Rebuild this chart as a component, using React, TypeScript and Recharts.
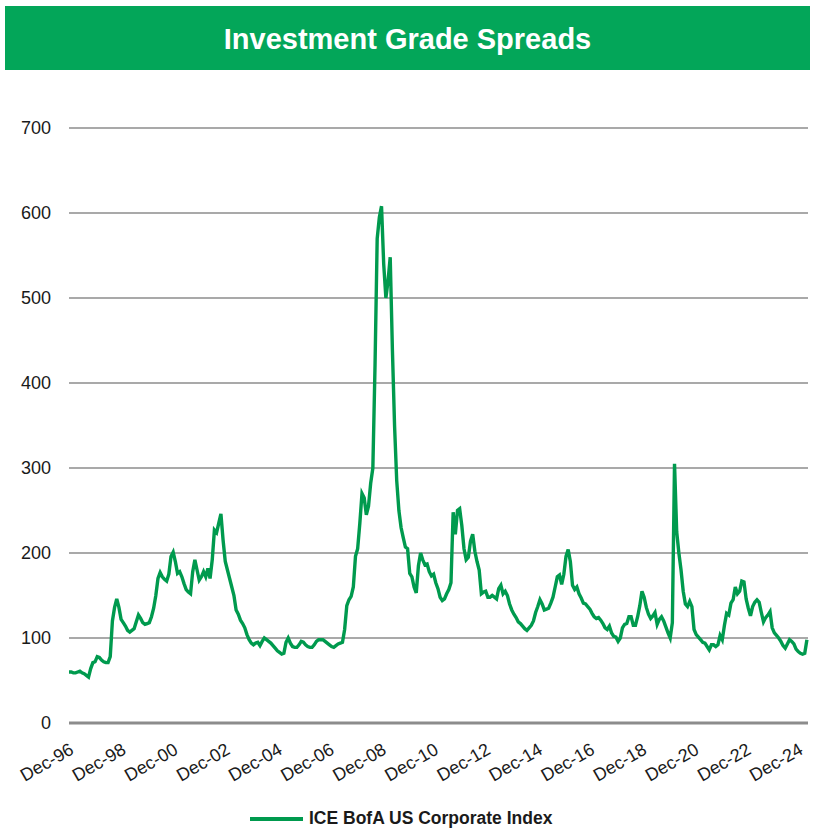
import { LineChart, Line, XAxis, YAxis, CartesianGrid } from "recharts";

const title = "Investment Grade Spreads";
const seriesName = "ICE BofA US Corporate Index";

// one label every 24 months, starting Dec-96
const tickLabels = [
  "Dec-96", "Dec-98", "Dec-00", "Dec-02", "Dec-04", "Dec-06", "Dec-08",
  "Dec-10", "Dec-12", "Dec-14", "Dec-16", "Dec-18", "Dec-20", "Dec-22", "Dec-24",
];
const yTicks = [0, 100, 200, 300, 400, 500, 600, 700];

// monthly spreads (bp), Dec-96 onwards
const spreads1997to2000 = [
  60, 60, 59, 59, 60, 61, 59, 58, 56, 54, 64, 71,
  72, 78, 77, 74, 72, 71, 71, 78, 120, 136, 146, 136,
  122, 118, 114, 109, 107, 109, 111, 119, 127, 123, 118, 116,
  117, 118, 125, 135, 150, 170, 177, 172, 169, 167, 175, 196,
];
const spreads2001to2004 = [
  201, 190, 176, 178, 172, 164, 157, 154, 152, 178, 192, 180,
  168, 172, 178, 172, 182, 170, 192, 227, 224, 235, 246, 215,
  190, 180, 170, 160, 150, 133, 128, 121, 117, 112, 104, 98,
  94, 92, 94, 95, 91, 96, 100, 98, 96, 94, 91, 88,
];
const spreads2005to2008 = [
  85, 83, 81, 82, 95, 100, 94, 90, 89, 89, 92, 96,
  95, 92, 90, 89, 89, 92, 96, 98, 98, 98, 96, 94,
  92, 90, 89, 91, 93, 94, 95, 110, 138, 145, 149, 160,
  196, 205, 235, 270, 265, 245, 255, 282, 300, 420, 570, 595,
];
const spreads2009to2012 = [
  608, 540, 500, 520, 548, 440, 350, 285, 250, 230, 218, 207,
  205, 176, 172, 160, 153, 185, 200, 192, 186, 187, 178, 173,
  175, 165, 158, 148, 144, 146, 152, 157, 165, 248, 222, 250,
  252, 232, 205, 192, 195, 214, 222, 202, 190, 180, 152, 154,
];
const spreads2013to2016 = [
  155, 148, 148, 150, 148, 146, 158, 162, 152, 155, 150, 140,
  133, 128, 124, 119, 117, 114, 111, 109, 112, 115, 120, 130,
  137, 145, 140, 133, 134, 135, 141, 148, 160, 172, 174, 163,
  175, 196, 204, 190, 162, 157, 160, 152, 147, 141, 140, 137,
];
const spreads2017to2020 = [
  134, 129, 125, 123, 124, 121, 117, 112, 110, 114, 106, 102,
  101, 96, 100, 112, 116, 117, 125, 125, 115, 115, 125, 138,
  155, 148, 136, 128, 123, 126, 130, 116, 122, 125, 120, 113,
  106, 100, 118, 305, 225, 200, 180, 155, 140, 137, 143, 137,
];
const spreads2021to2025 = [
  110, 104, 101, 98, 95, 94, 90, 86, 92, 92, 90, 92,
  103, 98, 115, 129, 127, 141, 145, 160, 152, 155, 167, 166,
  146, 135, 126, 137, 142, 145, 142, 130, 119, 124, 127, 131,
  112, 106, 103, 100, 96, 91, 88, 93, 98, 96, 93, 87,
  84, 82, 81, 82, 98,
];

const spreads = [
  ...spreads1997to2000, ...spreads2001to2004, ...spreads2005to2008,
  ...spreads2009to2012, ...spreads2013to2016, ...spreads2017to2020,
  ...spreads2021to2025,
];
const data = spreads.map((v, i) => ({ m: i, spread: v }));
const xTicks = tickLabels.map((_, i) => i * 24);

const GREEN = "#009A4E";
const BANNER = "#03A659";
const GRID = "#8c8c8c";
const FONT = "'Liberation Sans', Arial, sans-serif";

function DateTick(props: any) {
  const { x, y, payload } = props;
  const label = tickLabels[Math.round(payload.value / 24)];
  return (
    <g transform={`translate(${x + 6},${y + 22})`}>
      <text textAnchor="end" transform="rotate(-30)" fontSize={18} fill="#1a1a1a" fontFamily={FONT}>
        {label}
      </text>
    </g>
  );
}

export default function App() {
  return (
    <div style={{ position: "absolute", left: 0, top: 0, width: 815, height: 833, background: "#fff", fontFamily: FONT }}>
      <div
        style={{
          position: "absolute", left: 5, top: 6, width: 805, height: 64, background: BANNER,
          color: "#fff", fontWeight: "bold", fontSize: 29, display: "flex",
          alignItems: "center", justifyContent: "center", paddingTop: 2, boxSizing: "border-box",
        }}
      >
        {title}
      </div>
      <LineChart width={815} height={833} data={data} margin={{ top: 128, right: 7, left: 9, bottom: 50 }}>
        <CartesianGrid vertical={false} stroke={GRID} strokeWidth={1.3} />
        <XAxis
          type="number"
          dataKey="m"
          domain={[0, 340.5]}
          ticks={xTicks}
          interval={0}
          tick={<DateTick />}
          tickLine={false}
          axisLine={{ stroke: GRID, strokeWidth: 3 }}
          height={60}
        />
        <YAxis
          domain={[0, 700]}
          ticks={yTicks}
          interval={0}
          width={60}
          axisLine={false}
          tickLine={false}
          tickMargin={12}
          tick={{ fontSize: 18, fill: "#1a1a1a", fontFamily: FONT }}
        />
        <Line
          type="linear"
          dataKey="spread"
          name={seriesName}
          stroke={GREEN}
          strokeWidth={3.4}
          dot={false}
          isAnimationActive={false}
        />
      </LineChart>
      <div style={{ position: "absolute", left: 250, top: 808, display: "flex", alignItems: "center" }}>
        <div style={{ width: 53, height: 4, background: GREEN, marginRight: 6 }} />
        <span style={{ fontWeight: "bold", fontSize: 17.5, color: "#1a1a1a" }}>{seriesName}</span>
      </div>
    </div>
  );
}
